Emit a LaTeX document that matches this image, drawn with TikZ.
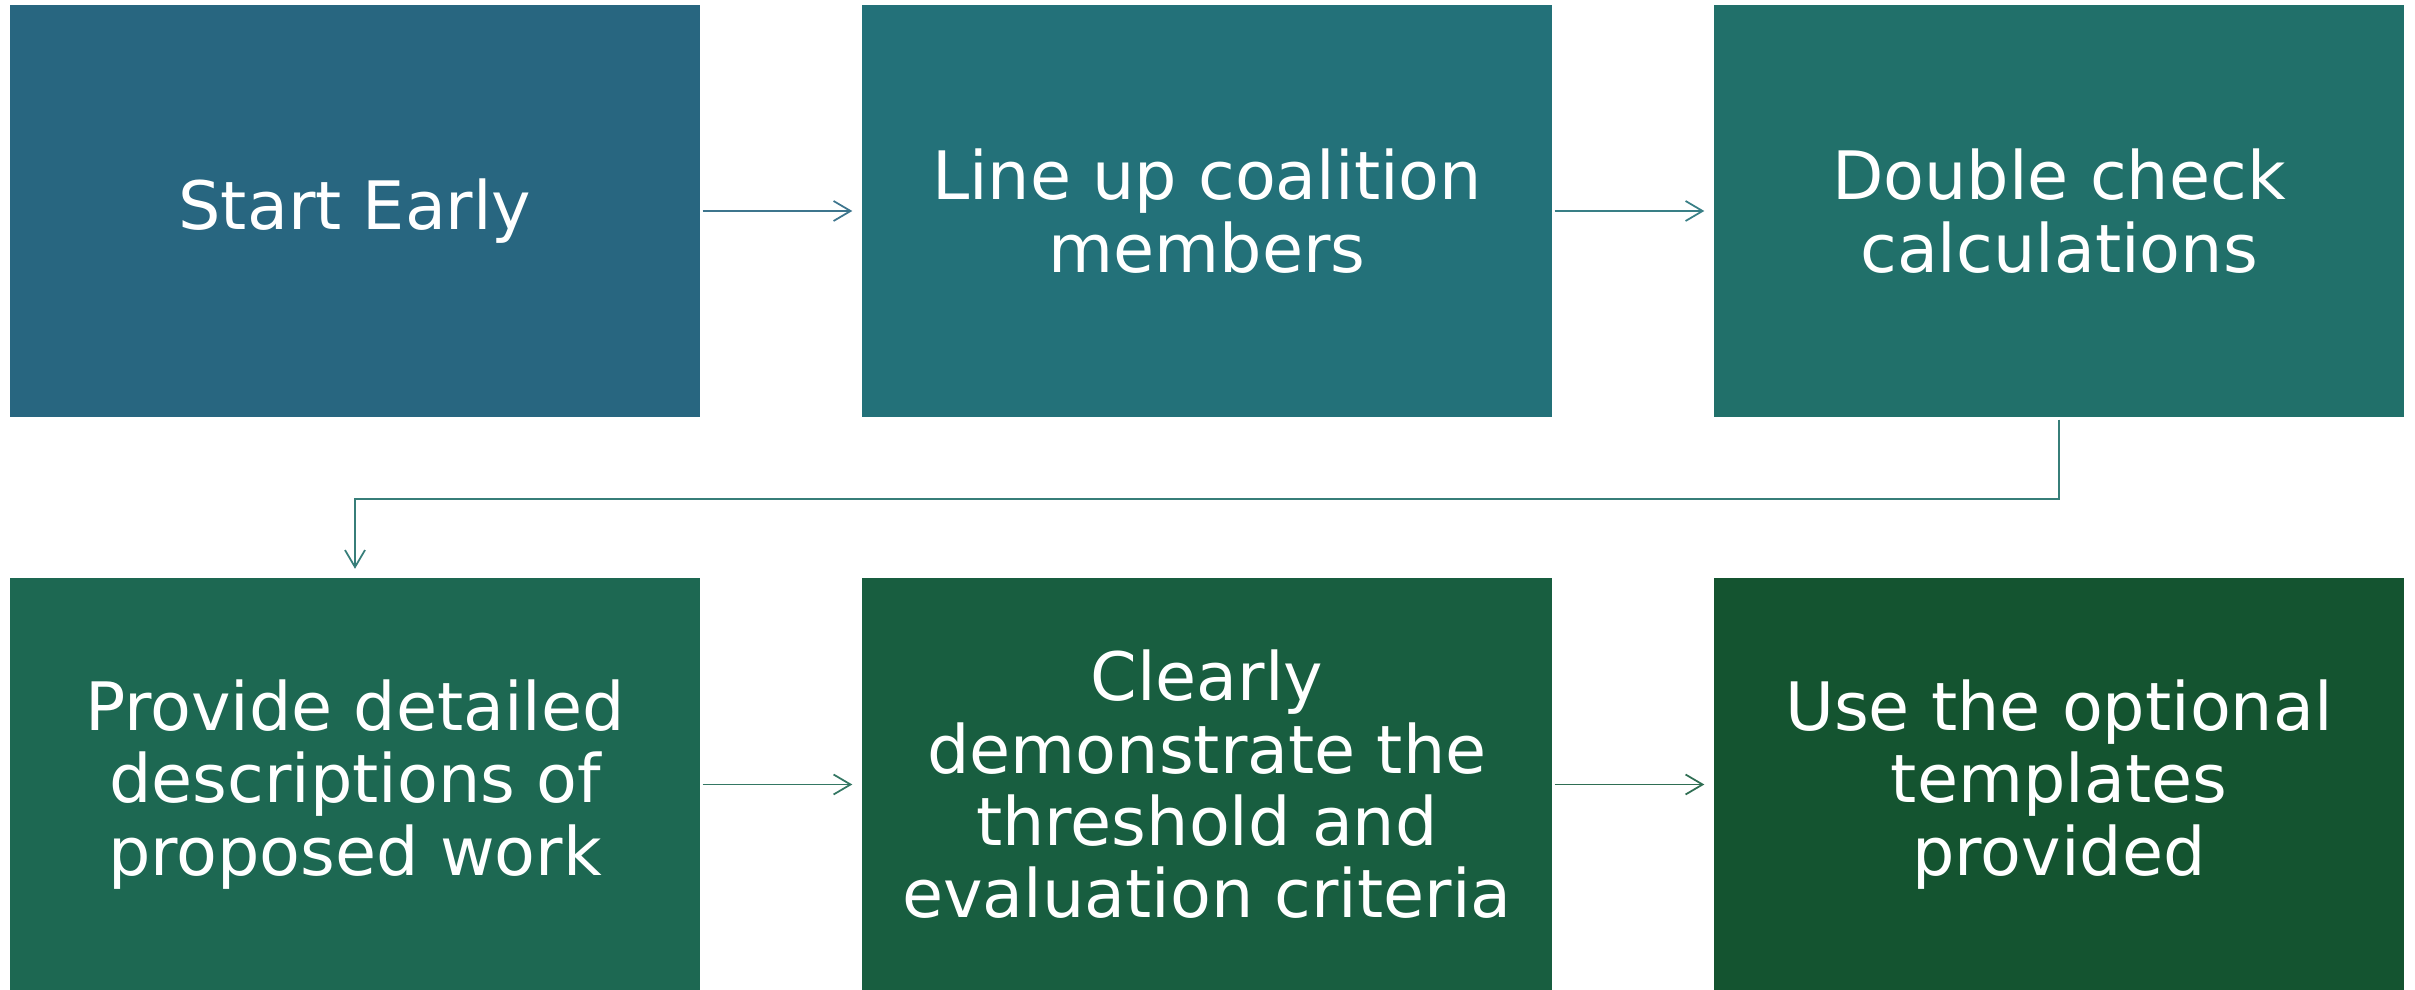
\documentclass[tikz,border=0pt]{standalone}
\usepackage{fontspec}
\setmainfont{DejaVu Sans}
\usetikzlibrary{arrows.meta}

\definecolor{stepA}{HTML}{286680}
\definecolor{stepB}{HTML}{237179}
\definecolor{stepC}{HTML}{21706A}
\definecolor{stepD}{HTML}{1D6852}
\definecolor{stepE}{HTML}{185E40}
\definecolor{stepF}{HTML}{145430}

\tikzset{
  stepbox/.style={draw=none,minimum width=6.90cm,minimum height=4.12cm,
    inner sep=0pt,align=center,text=white,
    font=\fontsize{19}{20.6}\selectfont},
  link/.style={line width=0.5pt,-{Straight Barb[length=0.17cm,width=0.2cm]},
    shorten <=0.02cm,shorten >=0.09cm}
}

\begin{document}
\begin{tikzpicture}
  \useasboundingbox (0,0) rectangle (24.15,9.90);

  % top row
  \node[stepbox,fill=stepA] (early) at (3.55,7.79) {Start Early};
  \node[stepbox,fill=stepB] (coalition) at (12.07,7.79) {Line up coalition\\members};
  \node[stepbox,fill=stepC] (calc) at (20.59,7.79) {Double check\\calculations};

  % bottom row
  \node[stepbox,fill=stepD] (describe) at (3.55,2.055) {Provide detailed\\descriptions of\\proposed work};
  \node[stepbox,fill=stepE] (criteria) at (12.07,2.055) {Clearly\\demonstrate the\\threshold and\\evaluation criteria};
  \node[stepbox,fill=stepF] (templates) at (20.59,2.055) {Use the optional\\templates\\provided};

  \draw[link,draw=stepA!90!white] (early) -- (coalition);
  \draw[link,draw=stepB!90!white] (coalition) -- (calc);
  \draw[link,draw=stepC!90!white] (calc.south) -- ++(0,-0.81) -| (describe.north);
  \draw[link,draw=stepD!90!white] (describe) -- (criteria);
  \draw[link,draw=stepE!90!white] (criteria) -- (templates);
\end{tikzpicture}
\end{document}
